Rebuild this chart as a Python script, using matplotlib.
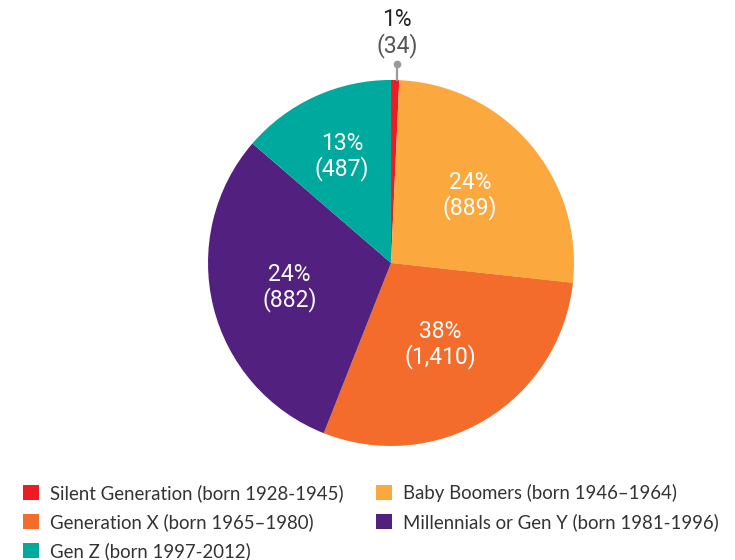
import numpy as np
import matplotlib.pyplot as plt
from matplotlib.patches import Patch

generations = ['Silent Generation (born 1928-1945)',
               'Baby Boomers (born 1946\u20131964)',
               'Generation X (born 1965\u20131980)',
               'Millennials or Gen Y (born 1981-1996)',
               'Gen Z (born 1997-2012)']
counts = [34, 889, 1410, 882, 487]
pct_labels = ['1%', '24%', '38%', '24%', '13%']
# wedge sizes as drawn in the picture (percent of the circle)
wedge_share = [0.72, 26.0, 29.25, 30.33, 13.67]
colors = ['#ED1C24', '#FBA93F', '#F36C2B', '#52217F', '#00A99D']

plt.rcParams['font.family'] = ['Roboto', 'DejaVu Sans']

fig = plt.figure(figsize=(7.35, 5.6), dpi=100)
ax = fig.add_axes([0.283, 0.2036, 0.498, 0.6536])

wedges, _ = ax.pie(wedge_share, colors=colors, startangle=90,
                   counterclock=False, radius=1)
ax.set_xlim(-1, 1)
ax.set_ylim(-1, 1)
ax.axis('off')

# inside labels
dist = [None, 0.57, 0.52, 0.57, 0.64]
for i, w in enumerate(wedges):
    if dist[i] is None:
        continue
    th = np.deg2rad((w.theta1 + w.theta2) / 2)
    x, y = dist[i] * np.cos(th), dist[i] * np.sin(th)
    ax.text(x, y, '%s\n(%s)' % (pct_labels[i], f'{counts[i]:,}'),
            ha='center', va='center', color='white', fontsize=16.5,
            linespacing=1.05)

# outside label for the tiny slice
w = wedges[0]
th = np.deg2rad((w.theta1 + w.theta2) / 2)
x0 = np.cos(th) + 0.01
ax.plot([x0, x0], [1.0, 1.087], color='#9a9a9a', lw=1.6, clip_on=False)
ax.plot([x0], [1.087], 'o', color='#9a9a9a', ms=4.5, clip_on=False)
ax.text(x0, 1.328, pct_labels[0], ha='center', va='center',
        color='#222222', fontsize=16.5)
ax.text(x0, 1.19, '(%d)' % counts[0], ha='center', va='center',
        color='#555555', fontsize=16.5)

# legend, column-wise order
order = [0, 2, 4, 1, 3]
handles = [Patch(facecolor=colors[i], edgecolor='none', label=generations[i])
           for i in order]
fig.legend(handles=handles, ncol=2, loc='upper left',
           bbox_to_anchor=(0.031, 0.136), frameon=False,
           prop={'family': 'Lato', 'size': 13.4},
           handlelength=0.85, handleheight=0.85, handletextpad=0.6,
           columnspacing=1.75, labelspacing=0.6, borderpad=0,
           borderaxespad=0, labelcolor='#333333')

fig.savefig('out.png', dpi=100)
